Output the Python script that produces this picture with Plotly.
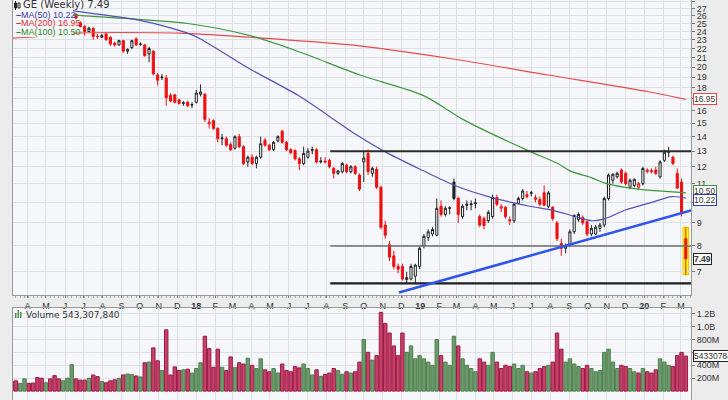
import numpy as np
import pandas as pd
import plotly.graph_objects as go

# ---------------- data (GE weekly) ----------------
week_dates = pd.date_range("2017-03-06", periods=158, freq="7D")

opens = [29.0, 28.8, 28.5, 28.7, 28.9, 28.6, 28.4, 28.0, 27.7, 27.8,
         27.4, 27.0, 26.7, 26.9, 27.1, 26.2, 25.1, 24.6, 24.0, 24.4,
         23.42, 23.3, 23.7, 23.3, 22.6, 22.4, 22.9, 21.7, 22.1, 23.1,
         22.48, 22.4, 21.4, 21.7, 19.2, 18.95, 18.9, 17.3, 17.35, 16.9,
         16.6, 16.7, 16.45, 16.7, 17.4, 17.4, 14.95, 15.2, 14.6, 13.85,
         13.85, 13.45, 13.2, 14.0, 13.3, 12.3, 12.6, 12.2, 12.6, 13.75,
         13.4, 13.1, 13.7, 14.4, 13.6, 13.1, 13.05, 12.5, 12.2, 12.6,
         13.05, 13.1, 12.3, 12.35, 12.4, 11.9, 11.6, 11.7, 12.1, 11.7,
         12.0, 11.5, 12.3, 12.85, 11.6, 11.85, 10.8, 8.9, 8.05, 7.6,
         7.2, 7.2, 6.73, 6.75, 6.85, 7.2, 8.0, 8.35, 8.5, 8.45,
         9.8, 9.4, 9.7, 11.1, 10.2, 9.3, 9.85, 9.88, 9.93, 9.3,
         9.2, 9.1, 9.3, 10.25, 9.7, 9.75, 9.15, 9.1, 9.95, 10.2,
         10.3, 10.48, 10.15, 10.15, 10.5, 9.8, 9.75, 9.0, 8.1, 7.9,
         8.05, 8.6, 9.15, 9.25, 9.05, 8.5, 8.5, 8.75, 8.9, 10.2,
         11.2, 11.4, 11.8, 11.6, 10.8, 10.9, 10.8, 11.0, 11.7, 11.7,
         11.8, 11.4, 12.4, 12.93, 12.6, 11.6, 11.1, 8.3]
highs = [29.3, 29.0, 28.9, 29.1, 29.0, 28.8, 28.5, 28.2, 28.0, 27.9,
         27.5, 27.1, 27.1, 27.3, 28.2, 26.4, 25.3, 24.8, 24.6, 24.5,
         23.7, 23.7, 23.8, 23.4, 22.8, 23.0, 23.0, 22.0, 23.0, 23.3,
         22.7, 22.5, 22.2, 21.8, 19.4, 19.3, 19.2, 17.5, 17.4, 17.0,
         16.8, 16.8, 16.7, 17.8, 18.3, 17.5, 15.4, 15.3, 14.7, 14.2,
         14.0, 13.6, 14.1, 14.2, 13.4, 12.7, 12.8, 12.7, 14.0, 13.9,
         13.5, 13.7, 14.1, 14.5, 13.7, 13.2, 13.1, 12.6, 13.3, 13.2,
         13.3, 13.2, 12.6, 12.6, 12.5, 12.0, 11.8, 12.3, 12.2, 12.1,
         12.1, 11.6, 12.95, 13.1, 12.0, 12.0, 10.9, 9.1, 8.2, 7.8,
         7.3, 7.3, 7.0, 7.3, 7.3, 8.0, 8.5, 8.7, 8.8, 10.2,
         10.1, 9.8, 9.8, 11.3, 10.3, 9.9, 10.1, 10.1, 10.2, 9.4,
         9.3, 9.6, 10.4, 10.4, 9.9, 9.8, 9.3, 10.0, 10.3, 10.7,
         10.6, 10.6, 10.4, 10.3, 10.9, 10.6, 9.8, 9.1, 8.3, 8.1,
         8.7, 9.4, 9.5, 9.35, 9.1, 8.9, 8.9, 9.0, 10.3, 11.6,
         11.6, 11.7, 11.9, 11.7, 11.3, 11.3, 11.1, 12.0, 11.9, 11.9,
         12.0, 12.4, 13.1, 13.3, 12.7, 11.9, 11.3, 8.8]
lows = [28.6, 28.3, 28.4, 28.5, 28.4, 28.2, 27.8, 27.5, 27.5, 27.2,
        26.8, 26.5, 26.6, 26.8, 27.0, 25.6, 24.5, 23.5, 23.9, 23.0,
        23.1, 23.2, 22.9, 22.3, 22.2, 22.3, 21.5, 21.4, 21.9, 22.3,
        22.3, 21.1, 20.5, 19.2, 18.2, 18.7, 16.4, 16.7, 16.6, 16.5,
        16.4, 16.3, 16.2, 16.6, 17.2, 15.1, 14.6, 14.5, 13.6, 13.4,
        13.3, 13.0, 13.1, 13.2, 12.1, 12.0, 12.1, 11.9, 12.5, 13.3,
        13.0, 13.0, 13.6, 13.5, 13.0, 12.8, 12.4, 11.8, 12.1, 12.5,
        12.8, 12.2, 12.2, 12.2, 11.9, 11.3, 11.5, 11.6, 11.6, 11.6,
        11.5, 10.6, 11.1, 11.5, 11.4, 10.7, 8.7, 8.3, 7.4, 7.1,
        6.95, 6.7, 6.62, 6.7, 6.6, 7.1, 7.9, 8.2, 8.4, 8.4,
        9.3, 9.3, 9.4, 10.1, 9.0, 9.2, 9.6, 9.6, 9.7, 8.8,
        8.7, 9.0, 9.2, 9.8, 9.5, 9.2, 8.9, 9.0, 9.9, 10.1,
        10.2, 10.3, 10.0, 9.8, 9.8, 9.7, 9.1, 8.2, 7.6, 7.7,
        7.95, 8.5, 9.05, 8.9, 8.4, 8.4, 8.45, 8.6, 8.8, 10.1,
        11.0, 11.3, 11.0, 10.9, 10.7, 10.8, 10.7, 10.9, 11.6, 11.6,
        11.5, 11.3, 12.3, 12.6, 12.1, 10.7, 9.3, 6.9]
closes = [28.8, 28.5, 28.7, 28.9, 28.6, 28.4, 28.0, 27.7, 27.8, 27.4,
          27.0, 26.7, 26.9, 27.1, 27.6, 25.7, 24.6, 24.0, 24.4, 23.4,
          23.38, 23.5, 23.0, 22.5, 22.4, 22.9, 21.7, 21.9, 22.9, 22.4,
          22.5, 21.2, 22.0, 19.3, 18.7, 19.0, 17.1, 16.8, 16.7, 16.6,
          16.65, 16.4, 16.5, 17.5, 17.6, 15.3, 15.1, 14.6, 13.85, 13.9,
          13.4, 13.1, 14.0, 13.3, 12.2, 12.6, 12.2, 12.6, 13.5, 13.4,
          13.1, 13.6, 14.0, 13.6, 13.1, 12.9, 12.5, 12.2, 12.85, 13.0,
          13.1, 12.3, 12.35, 12.3, 12.0, 11.6, 11.75, 12.2, 11.7, 12.0,
          11.6, 10.7, 12.55, 11.7, 11.9, 10.8, 8.8, 8.45, 7.55, 7.2,
          7.1, 6.75, 6.8, 7.2, 7.25, 7.9, 8.4, 8.6, 8.7, 9.7,
          9.4, 9.7, 9.72, 10.2, 9.4, 9.8, 9.9, 9.92, 9.97, 8.9,
          8.88, 9.5, 10.25, 9.9, 9.8, 9.3, 9.1, 9.9, 10.2, 10.6,
          10.4, 10.5, 10.25, 9.9, 9.85, 10.5, 9.2, 8.3, 7.9, 8.0,
          8.6, 9.35, 9.4, 9.0, 8.5, 8.75, 8.8, 8.9, 10.2, 11.5,
          11.55, 11.6, 11.1, 11.0, 11.2, 11.25, 11.0, 11.9, 11.8, 11.75,
          11.6, 12.3, 12.93, 12.95, 12.2, 10.76, 9.45, 7.49]
volume_m = [150, 160, 120, 190, 120, 125, 210, 200, 130, 190,
            240, 190, 160, 200, 410, 190, 170, 170, 200, 250,
            225, 150, 130, 160, 175, 200, 250, 265, 255, 235,
            220, 440, 450, 670, 470, 320, 950, 250, 375, 320,
            330, 340, 280, 350, 440, 850, 660, 370, 650, 370,
            320, 530, 365, 440, 420, 510,
            400, 350, 500, 330, 300, 350, 280, 420, 320, 300,
            380, 360, 420, 350, 250, 330, 230, 260, 280, 350,
            320, 260, 300, 280, 300,
            450, 800, 600, 480, 550, 1220, 1050, 900, 700, 550, 900, 600, 700, 500,
            550, 500, 450, 400, 800, 550, 450, 400, 850, 700, 500, 400, 350, 300,
            500, 450, 400, 600, 450, 350, 400, 380, 420, 350, 400, 300, 280, 300,
            350, 380, 400, 450, 900, 650, 450, 500, 420, 380, 350, 400,
            350, 300, 320, 600, 650, 450, 350, 400, 380, 350, 300, 280, 350, 300,
            280, 330, 500, 450, 400, 380, 550, 600, 543.30784]

# moving averages (week offset from 2017-04-03, value)
ma50_weeks = [4, 10.3, 25.9, 37, 40, 51.5, 62.7, 76, 83.7, 91.5, 99.2, 107,
              116.7, 122, 127.2, 131.1, 134.2, 138.8, 145.1, 149.8, 153]
ma50_vals = [27.5, 26.7, 25.4, 23.8, 23.1, 19.8, 17.3, 14.2, 12.85, 11.8, 10.9,
             10.3, 9.8, 9.6, 9.3, 9.1, 9.2, 9.6, 10.0, 10.3, 10.22]
ma100_weeks = [4, 11, 37, 51.5, 63.1, 77.1, 91.8, 101.6, 116, 123.2, 126,
               131, 134, 138.8, 146.5, 153]
ma100_vals = [26.6, 26.1, 25.0, 23.5, 21.6, 19.2, 17.3, 15.2, 13.07, 12.2,
              11.75, 11.35, 11.05, 10.8, 10.6, 10.5]
ma200_weeks = [-4, 0, 4, 10, 35, 51.5, 75, 98, 121, 144.6, 153]
ma200_vals = [23.2, 23.3, 23.5, 23.8, 23.8, 23.3, 22.4, 20.9, 19.2, 17.6, 16.95]

month_ticks = pd.date_range("2017-04-01", "2020-03-01", freq="MS")
month_labels = (["A", "M", "J", "J", "A", "S", "O", "N", "D"]
                + ["<b>18</b>", "F", "M", "A", "M", "J", "J", "A", "S", "O", "N", "D"]
                + ["<b>19</b>", "F", "M", "A", "M", "J", "J", "A", "S", "O", "N", "D"]
                + ["<b>20</b>", "F", "M"])
price_ticks = list(range(7, 29))
price_tick_text = ["" if v in (10, 17) else str(v) for v in price_ticks]  # covered by tags
vol_ticks = [200e6, 400e6, 600e6, 800e6, 1.0e9, 1.2e9]
vol_tick_text = ["200M", "400M", "600M", "800M", "1.0B", "1.2B"]

support_levels = [13.0, 8.0, 6.6]
support_styles = [("#2b2b2b", 2.0), ("#6e6e6e", 1.5), ("#1e1e1e", 2.2)]
levels_start_week = 70.2
trend_weeks = [86.2, 154.2]
trend_prices = [6.30, 9.59]

last_close = 7.49
last_volume = 543307840

# ---------------- helpers ----------------
base = pd.Timestamp("2017-04-03")
def wk(w):
    return base + pd.to_timedelta(np.asarray(w, dtype=float) * 7, unit="D")

n = len(week_dates)
assert all(len(a) == n for a in (opens, highs, lows, closes, volume_m))
o = np.array(opens); h = np.array(highs); l = np.array(lows); c = np.array(closes)
prev = np.concatenate([[o[0]], c[:-1]])
up = c >= prev

x_start = wk(-3.68)
x_end = wk(154.2)
Y_LO, Y_HI = 6.22, 28.2
PRICE_DOM = [1 - 295 / 400, 1]

def price_to_paper(v):
    f = (np.log10(v) - np.log10(Y_LO)) / (np.log10(Y_HI) - np.log10(Y_LO))
    return PRICE_DOM[0] + f * (PRICE_DOM[1] - PRICE_DOM[0])

PLOT_BG = "#f6f7fa"
GRID = "#dde0e7"
fig = go.Figure()

# candles: black (close >= prior close) and red (close < prior close)
for mask, col in ((up, "#222222"), (~up, "#ee1111")):
    idx = np.where(mask)[0]
    fig.add_trace(go.Candlestick(
        x=week_dates[idx], open=o[idx], high=h[idx], low=l[idx], close=c[idx],
        increasing=dict(line=dict(color=col, width=1), fillcolor="#ffffff"),
        decreasing=dict(line=dict(color=col, width=1), fillcolor=col),
        whiskerwidth=0, showlegend=False, hoverinfo="skip"))

# moving averages
for wks, vals, col in ((ma200_weeks, ma200_vals, "#e84a4a"),
                       (ma100_weeks, ma100_vals, "#3d963d"),
                       (ma50_weeks, ma50_vals, "#5252b4")):
    fig.add_trace(go.Scatter(x=wk(wks), y=vals, mode="lines",
                             line=dict(color=col, width=1.2, shape="spline", smoothing=0.8),
                             hoverinfo="skip", showlegend=False))

# drawn support / resistance lines and trend line
for lev, (col, wdt) in zip(support_levels, support_styles):
    fig.add_trace(go.Scatter(x=[wk(levels_start_week), x_end], y=[lev, lev], mode="lines",
                             line=dict(color=col, width=wdt), hoverinfo="skip", showlegend=False))
fig.add_trace(go.Scatter(x=wk(trend_weeks), y=trend_prices, mode="lines",
                         line=dict(color="#2f55ee", width=2.5), hoverinfo="skip", showlegend=False))

# volume
vol_fill = np.where(up, "#6b9b6b", "#c4416a")
vol_line = np.where(up, "#4f7f4f", "#9e1b45")
fig.add_trace(go.Bar(x=week_dates, y=np.array(volume_m) * 1e6, xaxis="x2", yaxis="y2",
                     marker=dict(color=list(vol_fill), line=dict(color=list(vol_line), width=1)),
                     width=5.6 * 86400000, hoverinfo="skip", showlegend=False))

axis_common = dict(showline=True, linecolor="#9a9a9a", linewidth=1, mirror=True,
                   showgrid=True, gridcolor=GRID, gridwidth=1, zeroline=False)
fig.update_layout(
    width=728, height=400, margin=dict(l=13, r=37, t=0, b=0),
    paper_bgcolor="#ececec", plot_bgcolor=PLOT_BG,
    font=dict(family="Liberation Sans, Arial, sans-serif", size=9, color="#333333"),
    showlegend=False, dragmode=False,
    xaxis=dict(domain=[0, 1], anchor="y", type="date", range=[x_start, x_end],
               tickvals=month_ticks, ticktext=month_labels, tickangle=0,
               ticks="outside", ticklen=2, tickcolor="#777",
               tickfont=dict(size=9, color="#333"),
               rangeslider=dict(visible=False),
               minor=dict(ticks="outside", ticklen=2, tickcolor="#aaa",
                          dtick=7 * 86400000, tick0="2017-03-06", showgrid=False),
               **axis_common),
    yaxis=dict(domain=PRICE_DOM, anchor="x", type="log", side="right",
               range=[np.log10(Y_LO), np.log10(Y_HI)],
               tickvals=price_ticks, ticktext=price_tick_text,
               ticks="outside", ticklen=3, tickcolor="#777",
               tickfont=dict(size=9, color="#333"), **axis_common),
    xaxis2=dict(domain=[0, 1], anchor="y2", type="date", matches="x",
                tickvals=month_ticks, showticklabels=False, ticks="",
                **axis_common),
    yaxis2=dict(domain=[0, 1 - 308 / 400], anchor="x2", side="right",
                range=[-137.5e6, 1287.5e6], tickvals=vol_ticks, ticktext=vol_tick_text,
                ticks="outside", ticklen=3, tickcolor="#777",
                tickfont=dict(size=9, color="#333"), **axis_common),
)

def px2paper_x(px):
    return (px - 13) / 678.0
def px2paper_y(py):
    return 1 - py / 400.0

shapes = []
# yellow highlight behind the current (last) bar, spanning its range
d_last = week_dates[-1]
shapes.append(dict(type="rect", xref="x", yref="paper", layer="below",
                   x0=d_last - pd.Timedelta(days=4.6), x1=d_last + pd.Timedelta(days=4.6),
                   y0=price_to_paper(l[-1]), y1=price_to_paper(h[-1]),
                   fillcolor="#ffff22", line=dict(color="#e8c000", width=1)))
# legend backing box (hides early bars under the legend text)
shapes.append(dict(type="rect", xref="paper", yref="paper", layer="above",
                   x0=0, x1=px2paper_x(73), y0=px2paper_y(37), y1=1,
                   fillcolor=PLOT_BG, line=dict(width=0)))
# tiny candle icon
shapes.append(dict(type="line", xref="paper", yref="paper", layer="above",
                   x0=px2paper_x(15.5), x1=px2paper_x(15.5), y0=px2paper_y(10), y1=px2paper_y(1),
                   line=dict(color="#222", width=1)))
shapes.append(dict(type="rect", xref="paper", yref="paper", layer="above",
                   x0=px2paper_x(14.5), x1=px2paper_x(16.5), y0=px2paper_y(8), y1=px2paper_y(3),
                   fillcolor="#222", line=dict(color="#222", width=1)))
shapes.append(dict(type="rect", xref="paper", yref="paper", layer="above",
                   x0=px2paper_x(18), x1=px2paper_x(20), y0=px2paper_y(8), y1=px2paper_y(3),
                   fillcolor="#fff", line=dict(color="#222", width=1)))
# tiny volume icon
for (xa, xb, yt) in ((15, 16.5, 313), (17.5, 19, 310), (20, 21.5, 312)):
    shapes.append(dict(type="rect", xref="paper", yref="paper", layer="above",
                       x0=px2paper_x(xa), x1=px2paper_x(xb), y0=px2paper_y(318), y1=px2paper_y(yt),
                       fillcolor="#4f8f4f", line=dict(width=0)))
fig.update_layout(shapes=shapes)

ann = []
def leg(text, px, py, color, size=9, family="Liberation Sans, Arial, sans-serif"):
    ann.append(dict(text=text, xref="paper", yref="paper", x=px2paper_x(px), y=px2paper_y(py),
                    xanchor="left", yanchor="middle", showarrow=False,
                    font=dict(family=family, size=size, color=color)))
leg(f"GE (Weekly) {last_close:.2f}", 21, 5, "#333333", 10, "DejaVu Sans, Verdana, sans-serif")
leg(f"<b>–</b>MA(50) {ma50_vals[-1]:.2f}", 14, 15, "#3a3aa6", 9)
leg(f"<b>–</b>MA(200) {ma200_vals[-1]:.2f}", 14, 23.5, "#d82c2c", 9)
leg(f"<b>–</b>MA(100) {ma100_vals[-1]:.2f}", 14, 32, "#2e862e", 9)
leg(f"Volume {last_volume:,}", 24, 314.5, "#333333", 9, "DejaVu Sans, Verdana, sans-serif")

def tag(text, yref, yval, border, bold=False, yshift=0):
    ann.append(dict(text=f"<b>{text}</b>" if bold else text, xref="paper", yref=yref, x=1.0, y=yval,
                    xanchor="left", yanchor="middle", xshift=2, yshift=yshift, showarrow=False,
                    bgcolor="#ffffff", bordercolor=border, borderwidth=1, borderpad=0,
                    font=dict(size=8.5, color="#333")))
tag(f"{ma200_vals[-1]:.2f}", "y", np.log10(ma200_vals[-1]), "#e04848")
tag(f"{ma100_vals[-1]:.2f}", "y", np.log10(ma100_vals[-1]), "#3d963d", yshift=1.5)
tag(f"{ma50_vals[-1]:.2f}", "y", np.log10(ma50_vals[-1]), "#3a3ab0", yshift=-1.5)
tag(f"{last_close:.2f}", "y", np.log10(last_close), "#222222", bold=True)
tag(f"{last_volume}", "y2", last_volume, "#222222")
fig.update_layout(annotations=ann)

fig.write_html("out.html")
